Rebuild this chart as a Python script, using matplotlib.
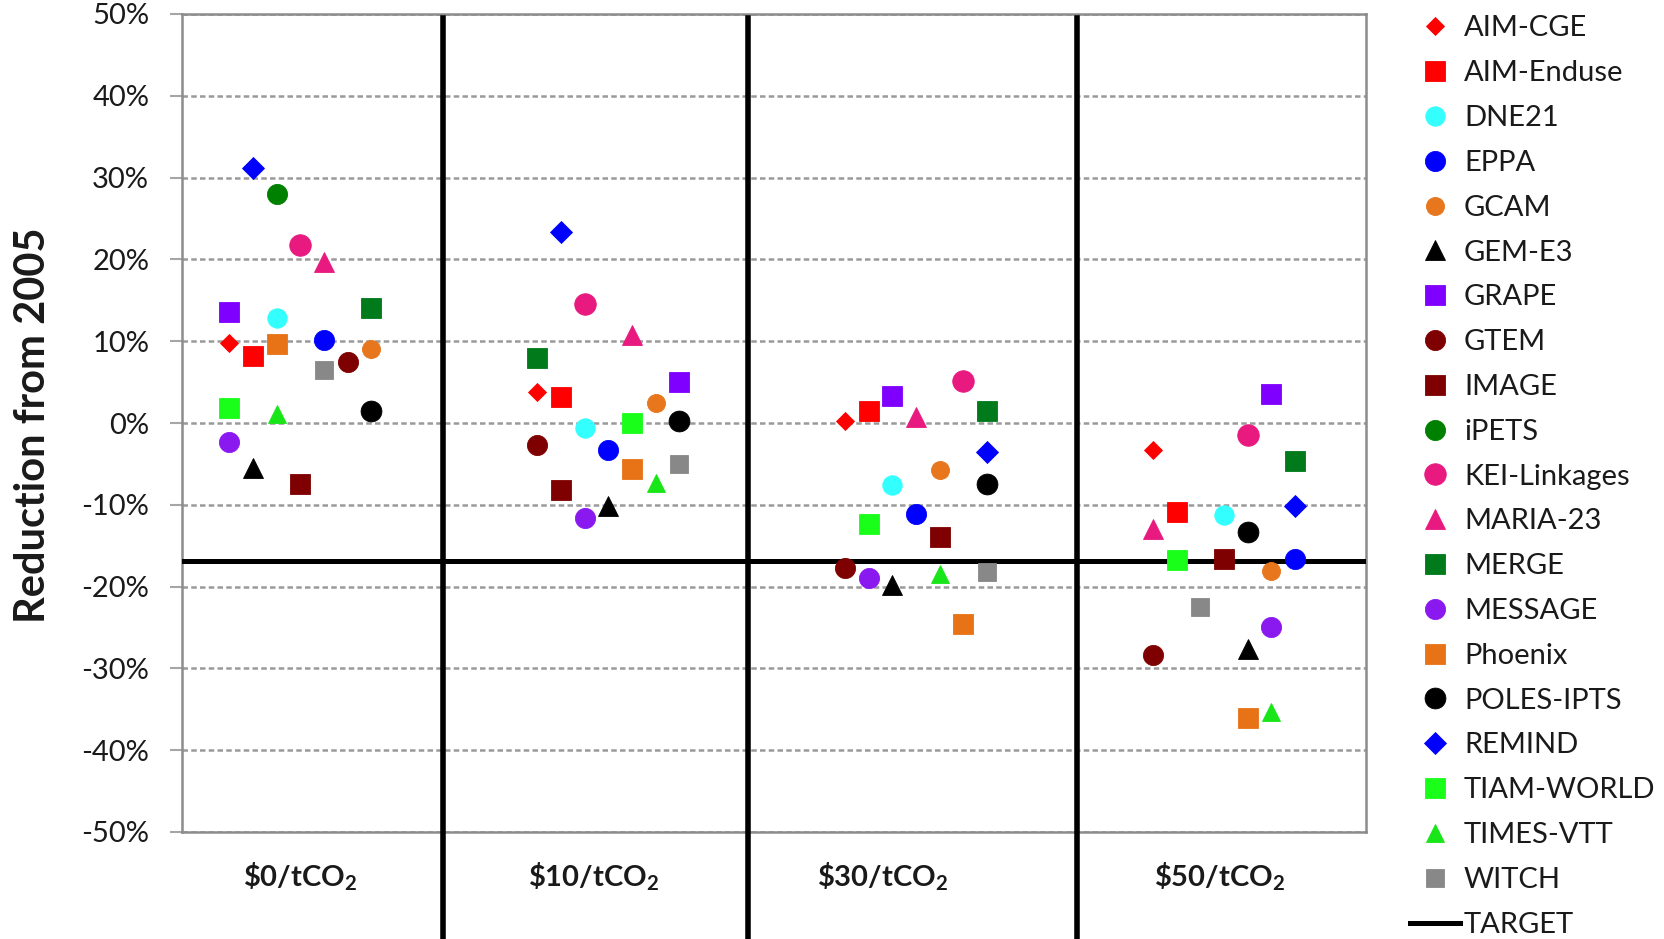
import numpy as np
import matplotlib
matplotlib.use('Agg')
import matplotlib.pyplot as plt
from matplotlib.ticker import FuncFormatter

plt.rcParams['font.family'] = ['Lato', 'DejaVu Sans']
plt.rcParams['mathtext.fontset'] = 'custom'
plt.rcParams['mathtext.rm'] = 'Lato:bold'
plt.rcParams['mathtext.bf'] = 'Lato:bold'
plt.rcParams['mathtext.it'] = 'Lato:bold'

nan = np.nan

models = ['AIM-CGE', 'AIM-Enduse', 'DNE21', 'EPPA', 'GCAM', 'GEM-E3', 'GRAPE',
          'GTEM', 'IMAGE', 'iPETS', 'KEI-Linkages', 'MARIA-23', 'MERGE',
          'MESSAGE', 'Phoenix', 'POLES-IPTS', 'REMIND', 'TIAM-WORLD',
          'TIMES-VTT', 'WITCH']
price_labels = [r'\$0/tCO$_{2}$', r'\$10/tCO$_{2}$', r'\$30/tCO$_{2}$', r'\$50/tCO$_{2}$']

# reduction from 2005 (%), one list per carbon price, same order as models
red_0 = [9.8, 8.2, 12.8, 10.1, 9.0, -5.5, 13.6, 7.5, -7.4, 28.0,
         21.7, 19.7, 14.0, -2.3, 9.7, 1.5, 31.2, 1.8, 1.1, 6.5]
red_10 = [3.8, 3.2, -0.6, -3.3, 2.4, -10.1, 5.0, -2.7, -8.2, nan,
          14.6, 10.7, 8.0, -11.6, -5.6, 0.2, 23.3, 0.0, -7.3, -5.0]
red_30 = [0.2, 1.5, -7.6, -11.1, -5.8, -19.8, 3.3, -17.7, -13.9, nan,
          5.1, 0.7, 1.5, -18.9, -24.6, -7.4, -3.5, -12.4, -18.4, -18.2]
red_50 = [-3.3, -10.9, -11.3, -16.6, -18.1, -27.6, 3.6, -28.4, -16.6, nan,
          -1.5, -13.0, -4.7, -24.9, -36.1, -13.3, -10.1, -16.8, -35.3, -22.5]

# column slot (0-6) of each model inside its price group
slot_0 = [0, 1, 2, 4, 6, 1, 0, 5, 3, 2, 3, 4, 6, 0, 2, 6, 1, 0, 2, 4]
slot_10 = [0, 1, 2, 3, 5, 3, 6, 0, 1, 0, 2, 4, 0, 2, 4, 6, 1, 4, 5, 6]
slot_30 = [0, 1, 2, 3, 4, 2, 2, 0, 4, 0, 5, 3, 6, 1, 5, 6, 6, 1, 4, 6]
slot_50 = [0, 1, 3, 6, 5, 4, 5, 0, 3, 0, 4, 0, 6, 5, 4, 4, 6, 1, 5, 2]

target = -16.9

styles = {
    'AIM-CGE': ('D', '#ff0000', 9.5),
    'AIM-Enduse': ('s', '#ff0000', 15),
    'DNE21': ('o', '#33ffff', 14),
    'EPPA': ('o', '#0000ff', 14.5),
    'GCAM': ('o', '#e8761c', 13),
    'GEM-E3': ('^', '#000000', 14),
    'GRAPE': ('s', '#8000ff', 15),
    'GTEM': ('o', '#7f0000', 14.5),
    'IMAGE': ('s', '#7f0000', 15),
    'iPETS': ('o', '#008000', 14.5),
    'KEI-Linkages': ('o', '#e8197f', 15.5),
    'MARIA-23': ('^', '#e8197f', 14),
    'MERGE': ('s', '#007a1a', 15),
    'MESSAGE': ('o', '#8a19f0', 14.5),
    'Phoenix': ('s', '#e87317', 15),
    'POLES-IPTS': ('o', '#000000', 15),
    'REMIND': ('D', '#0000ff', 11.5),
    'TIAM-WORLD': ('s', '#19ff19', 15),
    'TIMES-VTT': ('^', '#19e619', 13.5),
    'WITCH': ('s', '#888888', 13),
}

reds = [red_0, red_10, red_30, red_50]
slots = [slot_0, slot_10, slot_30, slot_50]

fig = plt.figure(figsize=(16.65, 9.39), dpi=100)
ax = fig.add_axes([182 / 1665, 1 - 832 / 939, (1366 - 182) / 1665, (832 - 14) / 939])

for i, m in enumerate(models):
    xs = [2 + 13 * g + slots[g][i] for g in range(4)]
    ys = [reds[g][i] for g in range(4)]
    mk, col, ms = styles[m]
    ax.plot(xs, ys, ls='none', marker=mk, ms=ms, color=col, mec=col, mew=0.6,
            zorder=5, label=m, clip_on=False)

ax.axhline(target, color='black', lw=3.6, zorder=3, label='TARGET')
for xd in (11.03, 23.9, 37.8):
    ax.axvline(xd, ymin=-0.131, ymax=0.995, color='black', lw=4, clip_on=False, zorder=3)

ax.set_xlim(0, 50)
ax.set_ylim(-50, 50)
ax.set_yticks(range(-50, 51, 10))
ax.yaxis.set_major_formatter(FuncFormatter(lambda v, p: f'{v:.0f}%'))
ax.set_xticks([])
ax.grid(axis='y', color='#9a9a9a', lw=1.8, ls=(0, (2.2, 1.3)))
ax.set_axisbelow(True)
for s in ax.spines.values():
    s.set_color('#8c8c8c')
    s.set_linewidth(1.8)
ax.tick_params(axis='y', length=8.6, width=1.5, color='#a6a6a6', pad=15,
               labelsize=21, labelcolor='#1a1a1a')

fig.text(33 / 1665, 1 - 425 / 939, 'Reduction from 2005', rotation=90,
         ha='center', va='center', fontsize=30, fontweight='bold', color='#1a1a1a')

for xc, lab in zip((5.0, 17.36, 29.6, 43.8), price_labels):
    ax.text(xc, -0.067, lab, transform=ax.get_xaxis_transform(), ha='center',
            va='baseline', fontsize=21, fontweight='bold', color='#1a1a1a')

handles, labels = ax.get_legend_handles_labels()
fig.legend(handles, labels, loc='upper left', bbox_to_anchor=(1410 / 1665, 0.9835),
           frameon=False, fontsize=21, handlelength=1.7, handletextpad=0.15,
           labelspacing=0.645, borderpad=0, borderaxespad=0, numpoints=1,
           labelcolor='#1a1a1a')

fig.savefig('out.png', dpi=100, facecolor='white')
